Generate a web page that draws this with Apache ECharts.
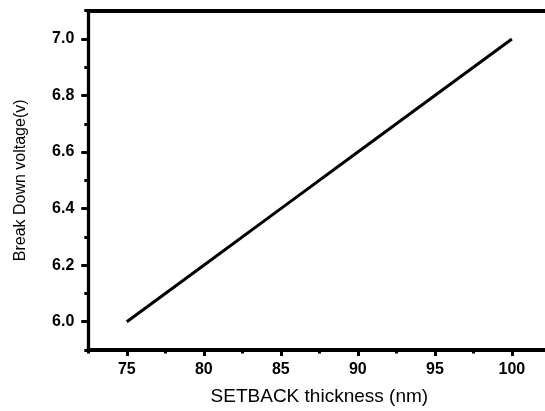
<!DOCTYPE html>
<html>
<head>
<meta charset="utf-8">
<script src="https://cdn.jsdelivr.net/npm/echarts@6/dist/echarts.min.js"></script>
<style>
  html, body { margin: 0; padding: 0; background: #fff; overflow: hidden; width: 545px; height: 411px; }
  #chart { width: 551px; height: 411px; }
</style>
</head>
<body>
<div id="chart"></div>
<script>
// Breakdown voltage versus setback thickness
const thickness = [75, 80, 85, 90, 95, 100];
const breakdownVoltage = [6.0, 6.2, 6.4, 6.6, 6.8, 7.0];

const xMajorTicks = [75, 80, 85, 90, 95, 100];
const xMinorTicks = [72.5, 77.5, 82.5, 87.5, 92.5, 97.5, 102.5];
const yMajorTicks = [6.0, 6.2, 6.4, 6.6, 6.8, 7.0];
const yMinorTicks = [5.9, 6.1, 6.3, 6.5, 6.7, 6.9, 7.1];

const X_MIN = 72.5, X_MAX = 102.5;
const Y_MIN = 5.9, Y_MAX = 7.1;

const FONT = 'Liberation Sans, Arial, sans-serif';
const tickLabel = { fontFamily: FONT, fontWeight: 'bold', fontSize: 16, color: '#000' };

const chart = echarts.init(document.getElementById('chart'), null, { renderer: 'canvas' });

chart.setOption({
  animation: false,
  backgroundColor: '#fff',
  // the frame's right edge runs just past the visible page
  grid: { left: 88.3, right: 0.6, top: 10.7, bottom: 57, containLabel: false },
  xAxis: [
    {
      type: 'value', min: X_MIN, max: X_MAX, position: 'bottom',
      name: 'SETBACK thickness (nm)', nameLocation: 'middle', nameGap: 37,
      nameTextStyle: { fontFamily: FONT, fontSize: 19, color: '#000' },
      axisLine: { show: true, onZero: false, lineStyle: { color: '#000', width: 4 } },
      axisTick: { show: true, inside: false, length: 6, customValues: xMajorTicks,
                  lineStyle: { color: '#000', width: 3 } },
      axisLabel: Object.assign({ margin: 12, customValues: xMajorTicks,
                  formatter: v => String(v) }, tickLabel),
      splitLine: { show: false }
    },
    {
      // minor ticks on the bottom axis
      type: 'value', min: X_MIN, max: X_MAX, position: 'bottom', offset: 0,
      axisLine: { show: false },
      axisTick: { show: true, inside: false, length: 3.5, customValues: xMinorTicks,
                  lineStyle: { color: '#000', width: 3 } },
      axisLabel: { show: false },
      splitLine: { show: false }
    },
    {
      // top frame edge
      type: 'value', min: X_MIN, max: X_MAX, position: 'top',
      axisLine: { show: true, onZero: false, lineStyle: { color: '#000', width: 4 } },
      axisTick: { show: false }, axisLabel: { show: false }, splitLine: { show: false }
    }
  ],
  yAxis: [
    {
      type: 'value', min: Y_MIN, max: Y_MAX, position: 'left',
      name: 'Break Down voltage(v)', nameLocation: 'middle', nameGap: 60,
      nameTextStyle: { fontFamily: FONT, fontSize: 16, color: '#000' },
      axisLine: { show: true, onZero: false, lineStyle: { color: '#000', width: 3.3 } },
      axisTick: { show: true, inside: false, length: 7, customValues: yMajorTicks,
                  lineStyle: { color: '#000', width: 3 } },
      axisLabel: Object.assign({ margin: 14, customValues: yMajorTicks,
                  formatter: v => v.toFixed(1) }, tickLabel),
      splitLine: { show: false }
    },
    {
      // minor ticks on the left axis
      type: 'value', min: Y_MIN, max: Y_MAX, position: 'left', offset: 0,
      axisLine: { show: false },
      axisTick: { show: true, inside: false, length: 4, customValues: yMinorTicks,
                  lineStyle: { color: '#000', width: 3 } },
      axisLabel: { show: false },
      splitLine: { show: false }
    }
  ],
  series: [
    {
      type: 'line',
      xAxisIndex: 0, yAxisIndex: 0,
      data: thickness.map((t, i) => [t, breakdownVoltage[i]]),
      showSymbol: false, symbol: 'none',
      lineStyle: { color: '#000', width: 3 },
      silent: true
    }
  ]
});
</script>
</body>
</html>
